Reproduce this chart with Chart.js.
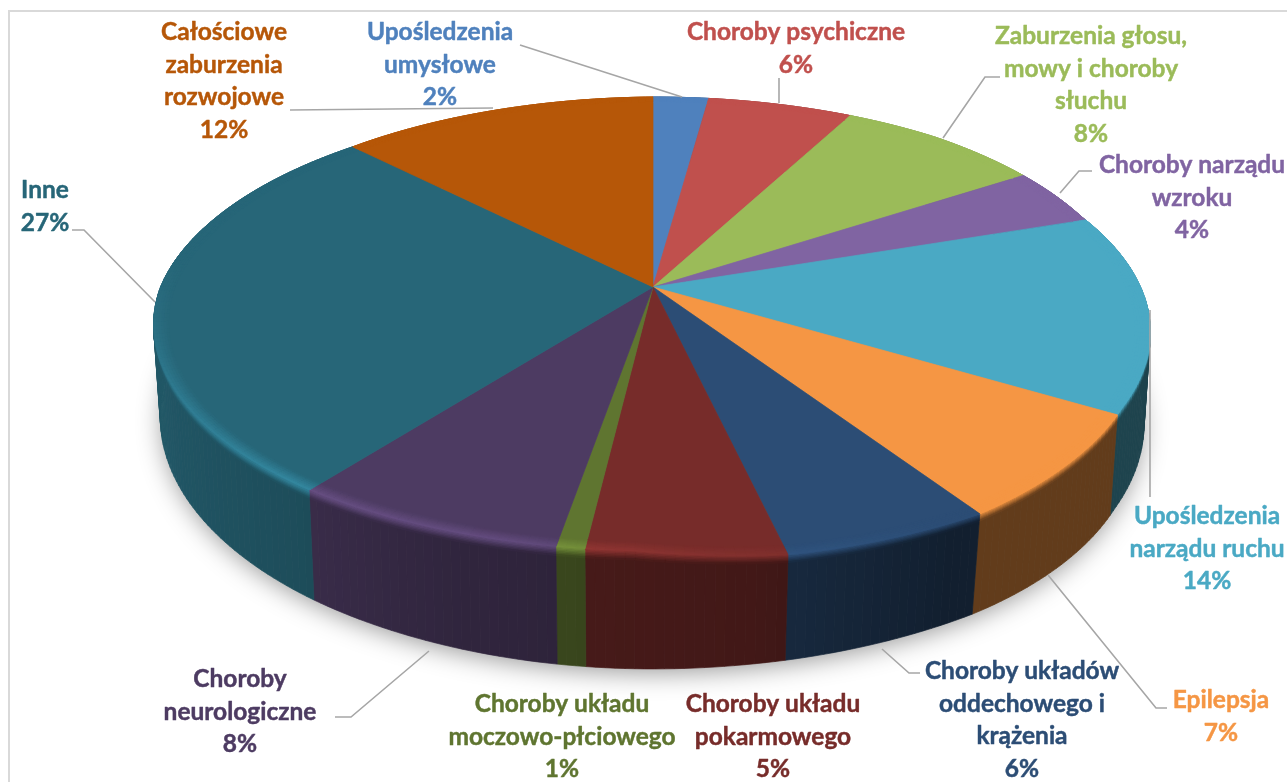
<!DOCTYPE html>
<html><head><meta charset="utf-8">
<style>html,body{margin:0;padding:0;background:#fff}canvas{display:block}</style>
<script src="https://cdn.jsdelivr.net/npm/chart.js@4"></script>
</head><body><canvas id="c" width="1287" height="782"></canvas>
<script>
const categories=["Upośledzenia umysłowe","Choroby psychiczne","Zaburzenia głosu, mowy i choroby słuchu","Choroby narządu wzroku","Upośledzenia narządu ruchu","Epilepsja","Choroby układów oddechowego i krążenia","Choroby układu pokarmowego","Choroby układu moczowo-płciowego","Choroby neurologiczne","Inne","Całościowe zaburzenia rozwojowe"];
const values=[2.1,5.5,8.0,4.1,14.0,7.1,5.6,5.4,0.8,7.7,27.4,12.2];
const colors=["#4f81bd","#c0504d","#9bbb59","#8064a2","#4aa9c4","#f59644","#2c4d75","#772c2a","#5f7530","#4d3b62","#276678","#b65708"];
const labelLines=[["Upośledzenia","umysłowe"],["Choroby psychiczne"],["Zaburzenia głosu,","mowy i choroby","słuchu"],["Choroby narządu","wzroku"],["Upośledzenia","narządu ruchu"],["Epilepsja"],["Choroby układów","oddechowego i","krążenia"],["Choroby układu","pokarmowego"],["Choroby układu","moczowo-płciowego"],["Choroby","neurologiczne"],["Inne"],["Całościowe","zaburzenia","rozwojowe"]];
const labelPlace=[[440,40],[796,40],[1091,44],[1192,173],[1207,524],[1221,708],[1022,679],[773,712],[562,712],[240,687],[45,198],[224,40]];
const leaders=[[[520,45],[682,97]],[[779,78],[779,103]],[[1000,77],[985,77],[943,138]],[[1092,171],[1079,171],[1060,193]],[[1150,310],[1150,497]],[[1167,708],[1156,708],[1048,575]],[[920,673],[909,673],[882,649]],[],[],[[335,717],[351,717],[429,651]],[[72,230],[84,230],[155,302]],[[290,110],[493,108]]];
const G={cx:653,topY:287,A:490,B:220.6,k:0.161,botY:375,botA:484,botB:246.6};
const outline=[[0,-.005],[30,.015],[57,.06],[77,.05],[92,.005],[110,.005],[127,.01],[150,.008],[180,.005],[226,-.015],[270,0],[310,0],[340,-.018],[360,-.005]];
function table(t,pts){
  if(t<=pts[0][0])return pts[0][1];
  for(let i=1;i<pts.length;i++)if(t<=pts[i][0]){const p=pts[i-1],q=pts[i];return p[1]+(q[1]-p[1])*(t-p[0])/(q[0]-p[0]);}
  return pts[pts.length-1][1];
}
function deg(a){let d=a*180/Math.PI%360;if(d<0)d+=360;return d;}
function P(a,f,r){
  const u=r*Math.cos(a),v=r*Math.sin(a),d=1-G.k*v,b=table(deg(a),outline);
  const xt=G.cx+G.A*u/d*(1+b),yt=G.topY+G.B*v/d*(1+b);
  const xb=G.cx+G.botA*u/d*(1+.8*b),yb=G.botY+G.botB*v/d;
  return [xt+(xb-xt)*f,yt+(yb-yt)*f];
}
function rgb(h){return [1,3,5].map(i=>parseInt(h.substr(i,2),16));}
function css(c){return `rgb(${c.map(x=>Math.min(255,Math.round(x))).join(',')})`;}
function mix(a,b,t){return a.map((x,i)=>x+(b[i]-x)*t);}
function shade(a){const d=deg(a);if(d>270)return 0.4;return table(d,[[0,.4],[60,.4],[80,.55],[100,.6],[110,.63],[130,.76],[160,.85],[270,.85]]);}
function hilite(a){const d=deg(a);if(d>200)return 0;return table(d,[[60,0],[85,.06],[105,.15],[130,.17],[150,.12],[172,.04],[188,0]]);}
function quad(ctx,a,b,c,d,col){ctx.fillStyle=col;ctx.strokeStyle=col;ctx.lineWidth=.7;ctx.beginPath();ctx.moveTo(...a);ctx.lineTo(...b);ctx.lineTo(...c);ctx.lineTo(...d);ctx.closePath();ctx.fill();ctx.stroke();}
function segments(s,e){const n=Math.max(2,Math.ceil((e-s)/(Math.PI/180)));const o=[];for(let i=0;i<n;i++)o.push([s+(e-s)*i/n,s+(e-s)*(i+1)/n]);return o;}
const pie3d={id:'pie3d',
 beforeDatasetsDraw(chart){
  const ctx=chart.ctx,arcs=chart.getDatasetMeta(0).data;
  ctx.save();
  ctx.strokeStyle='#d9d9d9';ctx.lineWidth=2;ctx.beginPath();ctx.moveTo(9,782);ctx.lineTo(9,11);ctx.lineTo(1287,11);ctx.stroke();
  ctx.save();ctx.shadowColor='rgba(0,0,0,.42)';ctx.shadowBlur=26;ctx.shadowOffsetY=5;ctx.fillStyle='#888';ctx.beginPath();
  for(let i=0;i<=360;i+=2){const p=P(i*Math.PI/180,1,.995);i?ctx.lineTo(...p):ctx.moveTo(...p);}
  ctx.closePath();ctx.fill();ctx.restore();
  arcs.forEach((arc,i)=>{const base=rgb(colors[i]);
   for(const [a,b] of segments(arc.startAngle,arc.endAngle)){
    const m=(a+b)/2,c=css(base.map(x=>x*shade(m)));
    quad(ctx,P(a,0,1),P(b,0,1),P(b,1,1),P(a,1,1),c);
   }});
  const steps=6,rimF=.075;
  arcs.forEach((arc,i)=>{const base=rgb(colors[i]);
   for(const [a,b] of segments(arc.startAngle,arc.endAngle)){
    const m=(a+b)/2;const side=base.map(x=>x*shade(m));const hi=base.map(x=>x*(1+2*hilite(m)));
    for(let s=0;s<steps;s++){const t0=s/steps,t1=(s+1)/steps;
     quad(ctx,P(a,t0*rimF,1),P(b,t0*rimF,1),P(b,t1*rimF,1),P(a,t1*rimF,1),css(mix(hi,side,(t0+t1)/2)));
    }}});
  arcs.forEach((arc,i)=>{ctx.fillStyle=colors[i];ctx.strokeStyle=colors[i];ctx.lineWidth=.7;ctx.beginPath();ctx.moveTo(G.cx,G.topY);
   for(const [a,b] of segments(arc.startAngle,arc.endAngle)){ctx.lineTo(...P(a,0,1));ctx.lineTo(...P(b,0,1));}
   ctx.closePath();ctx.fill();ctx.stroke();});
  const rIn=.97;
  arcs.forEach((arc,i)=>{const base=rgb(colors[i]);
   for(const [a,b] of segments(arc.startAngle,arc.endAngle)){
    const m=(a+b)/2;const hi=base.map(x=>x*(1+2*hilite(m)));
    for(let s=0;s<steps;s++){const t0=s/steps,t1=(s+1)/steps,r0=rIn+(1-rIn)*t0,r1=rIn+(1-rIn)*t1;
     quad(ctx,P(a,0,r0),P(b,0,r0),P(b,0,r1),P(a,0,r1),css(mix(base,hi,(t0+t1)/2)));
    }}});
  ctx.restore();
  return false;
 },
 afterDraw(chart){
  const ctx=chart.ctx,total=values.reduce((a,b)=>a+b,0);
  ctx.save();
  ctx.strokeStyle='#a6a6a6';ctx.lineWidth=1.6;
  leaders.forEach(l=>{if(!l.length)return;ctx.beginPath();l.forEach((p,i)=>i?ctx.lineTo(...p):ctx.moveTo(...p));ctx.stroke();});
  ctx.font='bold 24.5px Lato, "Open Sans", sans-serif';ctx.textAlign='center';ctx.textBaseline='alphabetic';ctx.lineWidth=.45;ctx.lineJoin='round';
  categories.forEach((_,i)=>{ctx.fillStyle=colors[i];ctx.strokeStyle=colors[i];
   const lines=[...labelLines[i],Math.round(values[i]/total*100)+'%'];
   lines.forEach((t,j)=>{const y=labelPlace[i][1]+j*32.6;ctx.fillText(t,labelPlace[i][0],y);ctx.strokeText(t,labelPlace[i][0],y);});});
  ctx.restore();
 }};
new Chart(document.getElementById('c'),{type:'pie',
 data:{labels:categories,datasets:[{data:values,backgroundColor:colors,borderWidth:0}]},
 options:{responsive:false,animation:false,plugins:{legend:{display:false},tooltip:{enabled:false}}},
 plugins:[pie3d]});
</script></body></html>
